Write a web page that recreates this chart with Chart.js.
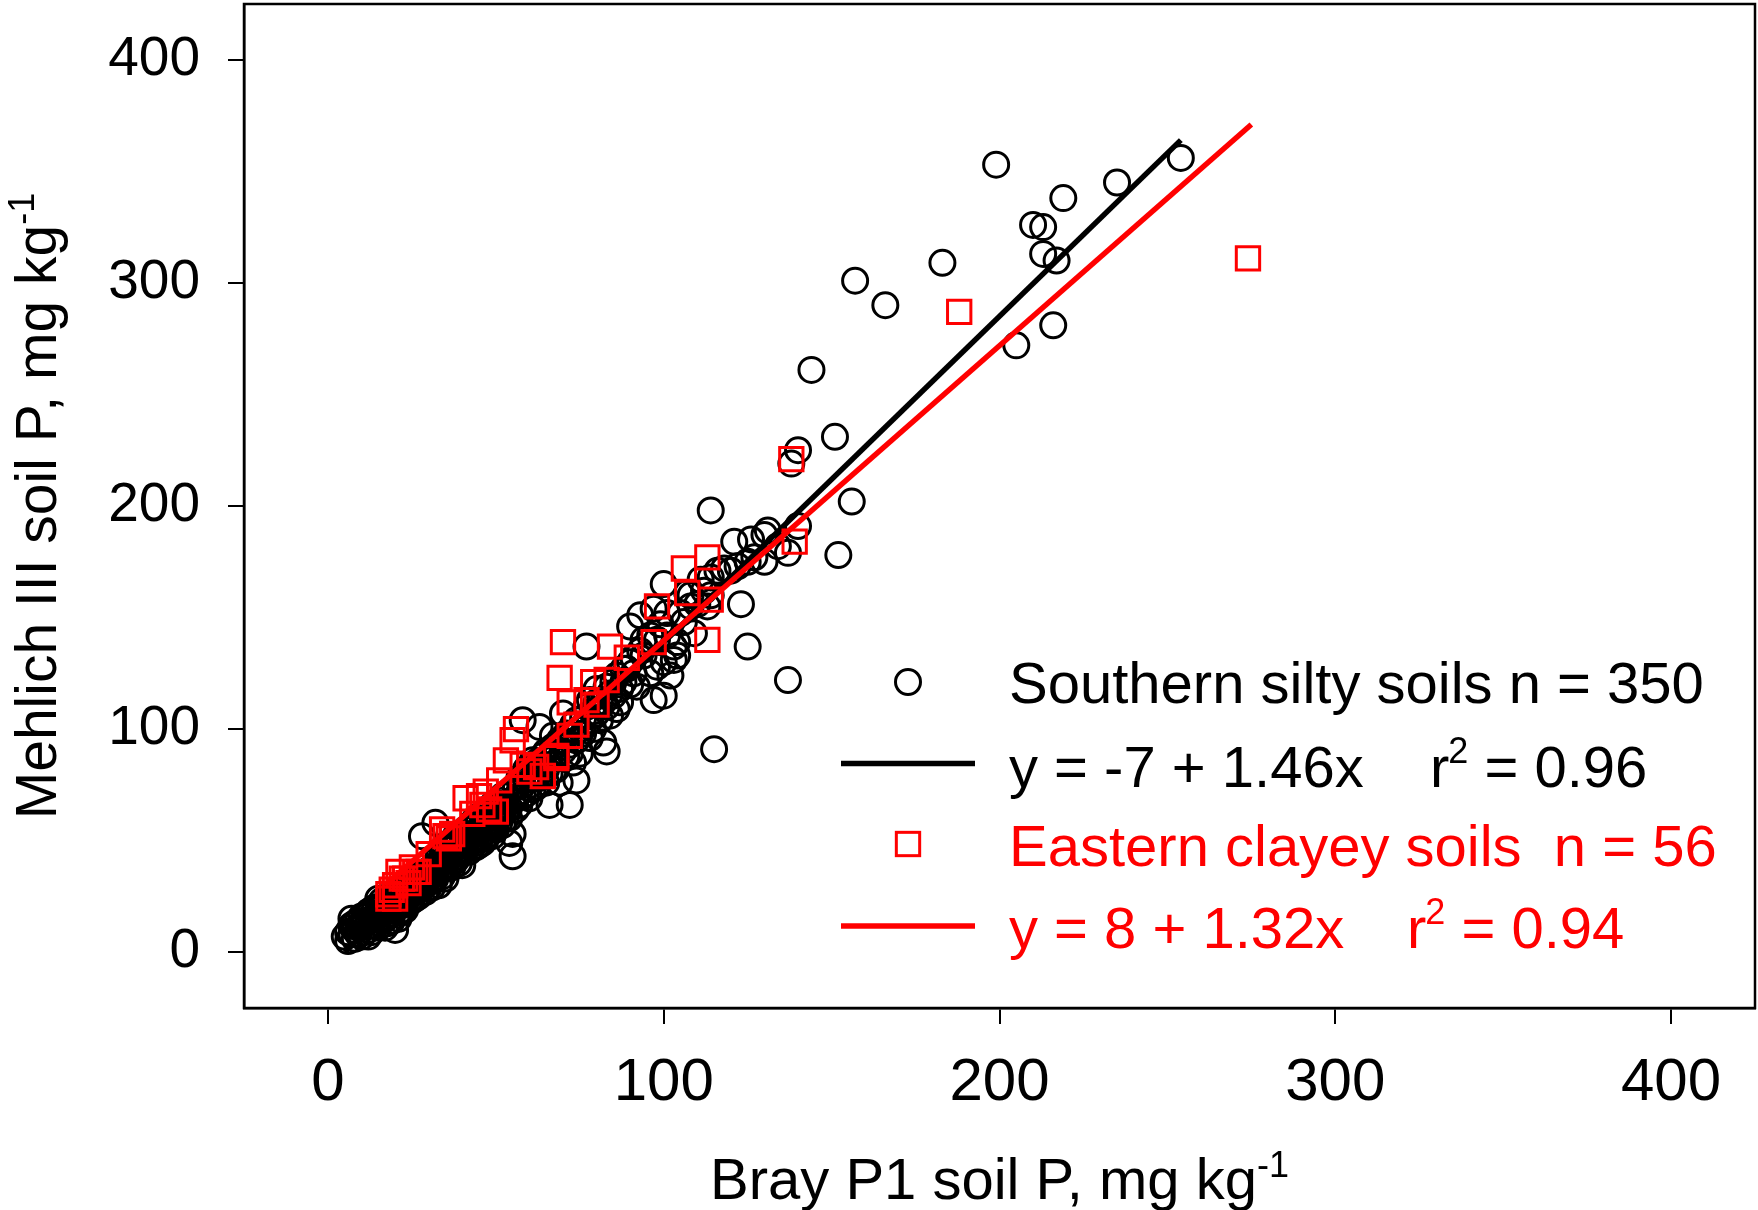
<!DOCTYPE html>
<html>
<head>
<meta charset="utf-8">
<title>Mehlich III vs Bray P1 soil P</title>
<script src="https://cdn.jsdelivr.net/npm/chart.js@4.4.1/dist/chart.umd.min.js"></script>
<style>
  html, body { margin: 0; padding: 0; background: #fff; }
  #wrap { width: 1758px; height: 1210px; }
</style>
</head>
<body>
<div id="wrap"><canvas id="chart" width="1758" height="1210"></canvas></div>
<script>
// Mehlich III vs Bray P1 soil P, two soil groups with their regression lines.
// Values (mg/kg).

const xTicks = [0, 100, 200, 300, 400];
const yTicks = [0, 100, 200, 300, 400];
const AXIS_MIN = -25, AXIS_MAX = 425;

// Southern silty soils (open circles) [Bray P1, Mehlich III]
const southernPts = [
  [5,7],[6,9],[7,12],[8,6],[8,10],[9,14],[9,8],[10,11],[10,16],[11,9],[11,13],[12,18],
  [12,10],[13,15],[13,9],[14,20],[14,12],[15,17],[15,24],[16,14],[16,20],[17,22],[17,11],
  [18,16],[18,25],[19,20],[19,14],[20,23],[20,10],[21,18],[21,27],[22,21],[22,30],[23,25],
  [23,19],[24,28],[24,22],[25,32],[25,26],[26,24],[26,30],[27,34],[27,28],[28,52],[28,31],
  [29,27],[29,36],[30,33],[30,29],[31,38],[31,32],[32,58],[32,35],[33,30],[33,40],[34,37],
  [34,44],[35,39],[35,33],[36,42],[36,47],[37,49],[37,38],[38,44],[38,52],[39,45],[39,40],
  [40,39],[40,48],[41,55],[41,46],[42,48],[42,52],[43,50],[43,58],[44,47],[44,60],[45,51],
  [45,55],[46,58],[46,49],[47,62],[47,54],[48,56],[48,64],[49,57],[49,52],[50,61],[50,67],
  [51,58],[51,64],[52,62],[52,70],[53,66],[53,60],[54,72],[54,49],[55,43],[55,53],[55,68],
  [56,74],[56,64],[57,72],[57,78],[58,104],[58,70],[59,77],[59,82],[60,69],[60,75],[61,78],
  [61,86],[62,80],[62,74],[63,101],[63,84],[64,88],[64,79],[65,82],[65,90],[66,66],[66,86],
  [67,97],[67,92],[68,88],[68,93],[69,95],[69,76],[70,107],[70,90],[71,98],[72,89],[72,66],
  [73,85],[73,97],[74,104],[74,77],[75,89],[75,100],[76,105],[77,137],[77,110],[78,96],
  [78,113],[79,108],[80,107],[80,118],[81,112],[82,94],[82,112],[83,90],[83,119],[84,116],
  [85,121],[86,109],[86,124],[87,118],[88,127],[89,127],[90,146],[90,130],[91,125],[92,119],
  [93,135],[93,151],[94,133],[96,142],[96,125],[97,154],[97,113],[98,128],[99,147],[100,165],
  [100,115],[100,130],[101,152],[102,124],[103,137],[103,131],[104,139],[104,133],[106,148],
  [107,161],[108,160],[109,143],[110,156],[111,167],[112,162],[113,155],[114,168],[114,160],
  [114,198],[115,91],[116,171],[118,172],[120,171],[121,184],[122,173],[123,156],[125,175],
  [125,137],[126,185],[127,177],[130,187],[130,175],[131,189],[134,182],[137,179],[137,122],
  [140,191],[140,225],[138,219],[144,261],[151,231],[152,178],[156,202],[157,301],[166,290],
  [183,309],[199,353],[205,272],[210,326],[213,325],[213,313],[216,281],[217,310],[219,338],
  [235,345],[254,356],
  // dense lower band
  [6,5],[7,8],[7,15],[8,13],[9,11],[10,7],[10,13],[11,16],[12,14],[12,7],[13,12],[13,19],
  [14,16],[15,11],[15,20],[16,17],[16,23],[17,15],[17,19],[18,21],[18,13],[19,23],[19,17],
  [20,20],[20,27],[21,22],[21,15],[22,25],[22,18],[23,28],[23,22],[24,25],[24,31],[25,29],
  [25,23],[26,27],[26,33],[27,31],[27,25],[28,29],[28,35],[29,32],[29,30],[30,36],[30,40],
  [31,35],[31,29],[32,38],[32,33],[33,36],[33,43],[34,40],[34,34],[35,42],[35,46],[36,38],
  [36,44],[37,41],[37,46],[38,48],[38,41],[39,43],[39,50],[40,45],[40,52],[41,49],[42,45],
  [42,55],[43,47],[43,53],[44,51],[44,56],[45,48],[45,59],[46,53],[46,62],[47,57],[47,51],
  [48,60],[48,53],[49,62],[49,66],[50,55],[50,58],[51,61],[51,68],[52,57],[52,66],[53,63],
  [53,70],[54,65],[54,60],[56,69],[57,66],[58,75],[59,71],[60,80],[61,73],[62,85],[63,78],
  [64,83],[65,76],[66,80],[67,87],[68,82],[70,95],[71,88],[72,93],[73,102],[74,95],[76,98],
  [78,104],[79,100],[80,112],[81,104],[83,110],[84,106],[85,115],[87,112],[88,121],[90,120],
  [91,132],[94,140],[98,140],[101,142],[105,152],[108,155]
];

// Eastern clayey soils (open squares)
const easternPts = [
  [18,24],[18,26],[19,28],[20,24],[20,30],[21,36],[22,33],[23,33],[24,31],[25,38],[26,36],
  [27,36],[30,44],[34,55],[35,52],[36,51],[37,53],[41,69],[43,62],[45,70],[46,66],[47,72],
  [48,64],[50,63],[51,77],[53,86],[55,95],[56,100],[58,84],[60,81],[62,83],[64,79],[68,87],
  [68,88],[69,123],[70,139],[72,112],[72,97],[74,102],[77,113],[79,121],[80,111],[83,122],
  [84,137],[89,132],[97,139],[98,155],[106,172],[107,161],[113,177],[113,140],[114,158],
  [138,221],[139,184],[188,287],[274,311]
];

// regression line end points
const southernFit = [[5, 0], [254, 364]];
const easternFit = [[17, 30], [275, 371]];

const legendRows = [
  { kind: 'circle', color: '#000000', text: 'Southern silty soils n = 350' },
  { kind: 'line', color: '#000000', text: 'y = -7 + 1.46x', r2: '0.96', rOffset: 1186 },
  { kind: 'rect', color: '#ff0000', text: 'Eastern clayey soils  n = 56' },
  { kind: 'line', color: '#ff0000', text: 'y = 8 + 1.32x', r2: '0.94', rOffset: 1163 }
];
const xTitle = 'Bray P1 soil P, mg kg';
const yTitle = 'Mehlich III soil P, mg kg';

const FONT = '"Liberation Sans", Arial, Helvetica, sans-serif';
const RED = '#ff0000';
const CIRCLE_R = 12.5;
const SQUARE_R = 16.5;
const MARK_W = 3;
const FIT_W = 5.5;
const TXT = 58;

function toXY(arr) {
  return arr.map(function (p) { return { x: p[0], y: p[1] }; });
}

function partsWidth(ctx, parts, size, supSize) {
  let w = 0;
  parts.forEach(function (p) {
    ctx.font = (p.sup ? supSize : size) + 'px ' + FONT;
    w += ctx.measureText(p.text).width;
  });
  return w;
}

function drawParts(ctx, parts, x, y, size, supSize, rise) {
  parts.forEach(function (p) {
    ctx.font = (p.sup ? supSize : size) + 'px ' + FONT;
    ctx.fillText(p.text, x, p.sup ? y - rise : y);
    x += ctx.measureText(p.text).width + (p.after || 0);
  });
  return x;
}

// closed frame round the plot area
const framePlugin = {
  id: 'frame',
  afterDatasetsDraw: function (chart) {
    const a = chart.chartArea, c = chart.ctx;
    c.save();
    c.strokeStyle = '#000';
    c.lineWidth = 2.5;
    c.strokeRect(a.left, a.top, a.right - a.left, a.bottom - a.top);
    c.restore();
  }
};

// axis titles with superscripts and the in-plot legend
const textPlugin = {
  id: 'texts',
  afterDraw: function (chart) {
    const a = chart.chartArea, c = chart.ctx;
    c.save();
    c.textAlign = 'left';
    c.textBaseline = 'alphabetic';
    c.fillStyle = '#000';

    // x title
    const xp = [{ text: xTitle }, { text: '-1', sup: true }];
    const xw = partsWidth(c, xp, TXT, 36);
    drawParts(c, xp, (a.left + a.right) / 2 - xw / 2, a.bottom + 191, TXT, 36, 22);

    // y title (rotated)
    const yp = [{ text: yTitle }, { text: '-1', sup: true }];
    const yw = partsWidth(c, yp, 57, 36);
    c.save();
    c.translate(56, (a.top + a.bottom) / 2);
    c.rotate(-Math.PI / 2);
    drawParts(c, yp, -yw / 2, 0, 57, 36, 22);
    c.restore();

    // legend
    const baselines = [699, 783, 862, 944];
    const centers = [678, 759.5, 840, 922];
    legendRows.forEach(function (row, i) {
      const cy = a.top + centers[i];
      c.strokeStyle = row.color;
      c.fillStyle = row.color;
      if (row.kind === 'circle') {
        c.lineWidth = MARK_W;
        c.beginPath();
        c.arc(a.left + 664, cy, CIRCLE_R, 0, Math.PI * 2);
        c.stroke();
      } else if (row.kind === 'rect') {
        const s = SQUARE_R * Math.SQRT1_2;
        c.lineWidth = MARK_W;
        c.strokeRect(a.left + 664 - s, cy - s, 2 * s, 2 * s);
      } else {
        c.lineWidth = FIT_W;
        c.beginPath();
        c.moveTo(a.left + 597, cy);
        c.lineTo(a.left + 731, cy);
        c.stroke();
      }
      const by = a.top + baselines[i];
      c.font = TXT + 'px ' + FONT;
      c.fillText(row.text, a.left + 765, by);
      if (row.r2) {
        drawParts(c, [
          { text: 'r', after: -1 },
          { text: '2', sup: true },
          { text: ' = ' + row.r2 }
        ], a.left + row.rOffset, by, TXT, 36, 24);
      }
    });
    c.restore();
  }
};

const axisGrid = {
  drawOnChartArea: false, drawTicks: true, tickLength: 16,
  color: '#000', tickColor: '#000', tickWidth: 2, lineWidth: 2
};

const ctx = document.getElementById('chart').getContext('2d');
new Chart(ctx, {
  type: 'scatter',
  data: {
    datasets: [
      { type: 'line', label: 'Eastern fit', data: toXY(easternFit),
        borderColor: RED, borderWidth: FIT_W, pointRadius: 0, fill: false },
      { label: 'Eastern clayey soils', data: toXY(easternPts),
        pointStyle: 'rect', pointRadius: SQUARE_R, pointBorderWidth: MARK_W,
        borderColor: RED, backgroundColor: 'rgba(0,0,0,0)' },
      { type: 'line', label: 'Southern fit', data: toXY(southernFit),
        borderColor: '#000', borderWidth: FIT_W, pointRadius: 0, fill: false },
      { label: 'Southern silty soils', data: toXY(southernPts),
        pointStyle: 'circle', pointRadius: CIRCLE_R, pointBorderWidth: MARK_W,
        borderColor: '#000', backgroundColor: 'rgba(0,0,0,0)' }
    ]
  },
  options: {
    responsive: false,
    animation: false,
    layout: { autoPadding: false, padding: { top: 4, right: 3, left: 0, bottom: 0 } },
    plugins: { legend: { display: false }, tooltip: { enabled: false } },
    scales: {
      x: {
        type: 'linear', min: AXIS_MIN, max: AXIS_MAX,
        afterBuildTicks: function (s) { s.ticks = xTicks.map(function (v) { return { value: v }; }); },
        afterFit: function (s) { s.height = 202; s.paddingLeft = 0; s.paddingRight = 0; },
        grid: axisGrid,
        border: { display: true, color: '#000', width: 2.5 },
        ticks: { color: '#000', padding: 23, maxRotation: 0,
                 font: { family: FONT, size: 60 } },
        title: { display: false }
      },
      y: {
        type: 'linear', min: AXIS_MIN, max: AXIS_MAX,
        afterBuildTicks: function (s) { s.ticks = yTicks.map(function (v) { return { value: v }; }); },
        afterFit: function (s) { s.width = 244; s.paddingTop = 0; s.paddingBottom = 0; },
        grid: axisGrid,
        border: { display: true, color: '#000', width: 2.5 },
        ticks: { color: '#000', padding: 28,
                 font: { family: FONT, size: 55 } },
        title: { display: false }
      }
    }
  },
  plugins: [framePlugin, textPlugin]
});
</script>
</body>
</html>
